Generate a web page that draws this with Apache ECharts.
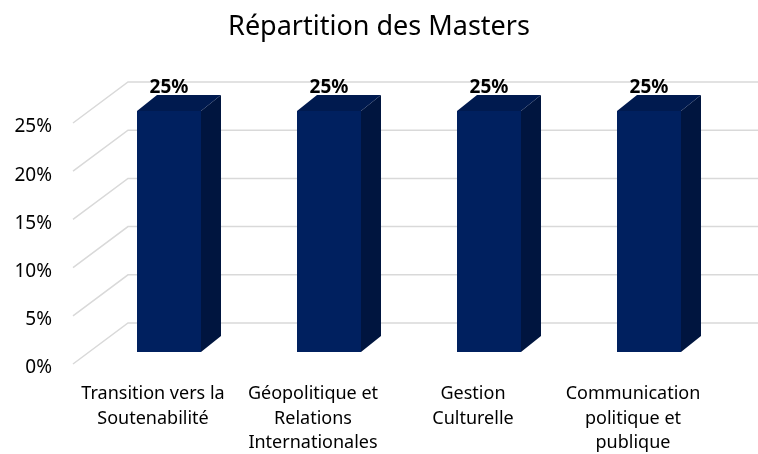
<!DOCTYPE html>
<html>
<head>
<meta charset="utf-8">
<script src="https://cdn.jsdelivr.net/npm/echarts@6/dist/echarts.min.js"></script>
<style>
  html, body { margin: 0; padding: 0; background: #fff; }
  #chart { width: 758px; height: 454px; }
</style>
</head>
<body>
<div id="chart"></div>
<script>
const categories = [
  "Transition vers la\nSoutenabilité",
  "Géopolitique et\nRelations\nInternationales",
  "Gestion\nCulturelle",
  "Communication\npolitique et\npublique"
];
const shares = [25, 25, 25, 25];
const yTicks = [0, 5, 10, 15, 20, 25];

// fake 3D: offset of back wall, of bar front and of bar depth
const WALL = [55, -41];
const FRONT = [16, -12];
const DEPTH = [20, -16];

const chart = echarts.init(document.getElementById("chart"));

const option = {
  animation: false,
  title: {
    text: "Répartition des Masters",
    left: "center",
    top: 9,
    textStyle: { fontFamily: "Noto Sans", fontSize: 27, fontWeight: "normal", color: "#000" }
  },
  grid: { left: 73, right: 45, top: 123, bottom: 90, outerBoundsMode: "none" },
  xAxis: {
    type: "category",
    data: categories,
    axisLine: { show: false },
    axisTick: { show: false },
    axisLabel: {
      margin: 18,
      interval: 0,
      fontFamily: "Noto Sans",
      fontSize: 18,
      lineHeight: 24.5,
      color: "#000",
      align: "center"
    }
  },
  yAxis: {
    type: "value",
    min: 0,
    max: 25,
    interval: 5,
    axisLine: { show: false },
    axisTick: { show: false },
    splitLine: { show: false },
    axisLabel: {
      margin: 21,
      verticalAlign: "top",
      lineHeight: 8,
      fontFamily: "Noto Sans",
      fontSize: 19,
      color: "#000",
      formatter: "{value}%"
    }
  },
  series: [
    {
      // gridlines: diagonal on the floor side, then along the back wall
      type: "custom",
      clip: false,
      z: 1,
      data: yTicks.map(v => [0, v]),
      renderItem: (params, api) => {
        const cs = params.coordSys;
        const y = api.coord([0, api.value(1)])[1];
        return {
          type: "polyline",
          shape: {
            points: [
              [cs.x, y],
              [cs.x + WALL[0], y + WALL[1]],
              [cs.x + cs.width + WALL[0], y + WALL[1]]
            ]
          },
          style: { stroke: "#d9d9d9", lineWidth: 1.5, fill: null }
        };
      }
    },
    {
      type: "custom",
      clip: false,
      z: 2,
      data: shares.map((v, i) => [i, v]),
      renderItem: (params, api) => {
        const idx = api.value(0);
        const val = api.value(1);
        const top = api.coord([idx, val]);
        const base = api.coord([idx, 0]);
        const w = api.size([1, 0])[0] * 0.4;
        const xl = top[0] - w / 2 + FRONT[0];
        const xr = xl + w;
        const yt = top[1] + FRONT[1];
        const yb = base[1] + FRONT[1];
        return {
          type: "group",
          children: [
            {
              type: "polygon",
              shape: { points: [[xr, yt], [xr + DEPTH[0], yt + DEPTH[1]], [xr + DEPTH[0], yb + DEPTH[1]], [xr, yb]] },
              style: { fill: "#00153f" }
            },
            {
              type: "polygon",
              shape: { points: [[xl, yt], [xl + DEPTH[0], yt + DEPTH[1]], [xr + DEPTH[0], yt + DEPTH[1]], [xr, yt]] },
              style: { fill: "#001a4f" }
            },
            {
              type: "rect",
              shape: { x: xl, y: yt, width: w, height: yb - yt },
              style: { fill: "#00205f" }
            },
            {
              type: "text",
              z2: 10,
              style: {
                text: val + "%",
                x: (xl + xr) / 2,
                y: yt - 23,
                align: "center",
                verticalAlign: "middle",
                fontFamily: "Noto Sans",
                fontSize: 19,
                fontWeight: "bold",
                fill: "#000"
              }
            }
          ]
        };
      }
    }
  ]
};

chart.setOption(option);
</script>
</body>
</html>
